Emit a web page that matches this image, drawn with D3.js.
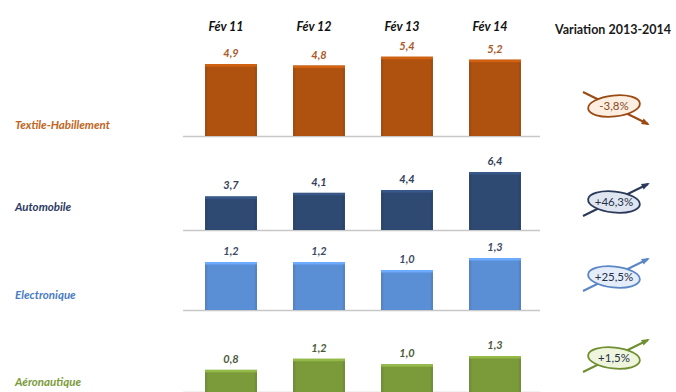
<!DOCTYPE html>
<html>
<head>
<meta charset="utf-8">
<script src="https://cdn.jsdelivr.net/npm/d3@7"></script>
<style>
  body { margin: 0; background: #fff; }
  svg { display: block; font-family: Lato, "Open Sans", sans-serif; }
</style>
</head>
<body>
<div class="chart"></div>
<script>
/* chart data */
const months = ["Fév 11", "Fév 12", "Fév 13", "Fév 14"];
const sectors = ["Textile-Habillement", "Automobile", "Electronique", "Aéronautique"];
const textileValues = [4.9, 4.8, 5.4, 5.2];
const autoValues = [3.7, 4.1, 4.4, 6.4];
const electroValues = [1.2, 1.2, 1.0, 1.3];
const aeroValues = [0.8, 1.2, 1.0, 1.3];
const variations = [-3.8, 46.3, 25.5, 1.5];
const variationTitle = "Variation 2013-2014";

const w = 676, h = 392;

/* look of each panel */
const panels = [
  { values: textileValues, base: 136, top: 56, max: 5.45, bar: "#b0520f", label: "#a85a2a", name: "#c0661e", fill: "#fcefe2", line: "#9b4a14", textY: 129, badgeY: 106 },
  { values: autoValues, base: 230, top: 172, max: 6.4, bar: "#2e4a72", label: "#33405a", name: "#2b3a63", fill: "#dfe6f1", line: "#2b3a5a", textY: 211, badgeY: 202 },
  { values: electroValues, base: 310, top: 258, max: 1.3, bar: "#5a8fd5", label: "#3b4a66", name: "#4a7cc4", fill: "#e4edf9", line: "#5b87c5", textY: 299, badgeY: 277 },
  { values: aeroValues, base: 392, top: 356, max: 1.3, bar: "#7b9b3b", label: "#4b5a3a", name: "#7a9a3a", fill: "#eff4dd", line: "#6f8f32", textY: 386, badgeY: 358 }
];

const svg = d3.select(".chart").append("svg")
  .attr("width", w)
  .attr("height", h);

const defs = svg.append("defs");
panels.forEach((p, i) => {
  const g = defs.append("linearGradient").attr("id", "bev" + i)
    .attr("x1", 0).attr("x2", 1).attr("y1", 0).attr("y2", 0);
  g.append("stop").attr("offset", "0%").attr("stop-color", d3.color(p.bar).darker(0.4));
  g.append("stop").attr("offset", "6%").attr("stop-color", p.bar);
  g.append("stop").attr("offset", "94%").attr("stop-color", p.bar);
  g.append("stop").attr("offset", "100%").attr("stop-color", d3.color(p.bar).darker(0.4));
});

const xScale = d3.scaleBand()
  .domain(months)
  .range([187, 539])
  .paddingInner(0.41)
  .paddingOuter(0.205);

/* column headers */
svg.selectAll(".month")
  .data(months)
  .enter()
  .append("text")
  .attr("class", "month")
  .attr("x", d => xScale(d) + xScale.bandwidth() / 2 - 5)
  .attr("y", 31)
  .attr("text-anchor", "middle")
  .attr("font-size", 12.5)
  .attr("font-weight", "bold")
  .attr("font-style", "italic")
  .attr("fill", "#111")
  .text(d => d);

svg.append("text")
  .attr("x", 613)
  .attr("y", 34)
  .attr("text-anchor", "middle")
  .attr("font-size", 12.5)
  .attr("font-weight", "bold")
  .attr("fill", "#1a1a1a")
  .text(variationTitle);

const fmt = v => d3.format(".1f")(Math.abs(v)).replace(".", ",");

panels.forEach((p, i) => {
  const yScale = d3.scaleLinear().domain([0, p.max]).range([p.base, p.top]);
  const g = svg.append("g");

  g.append("line")
    .attr("x1", 183).attr("x2", 540)
    .attr("y1", p.base + 0.5).attr("y2", p.base + 0.5)
    .attr("stroke", "#c8c8c8")
    .attr("stroke-width", 1.5);

  g.selectAll("rect.bar")
    .data(p.values)
    .enter()
    .append("rect")
    .attr("class", "bar")
    .attr("x", (d, j) => xScale(months[j]))
    .attr("y", d => yScale(d))
    .attr("width", xScale.bandwidth())
    .attr("height", d => p.base - yScale(d))
    .attr("fill", "url(#bev" + i + ")");

  // lighter top edge
  g.selectAll("rect.edge")
    .data(p.values)
    .enter()
    .append("rect")
    .attr("class", "edge")
    .attr("x", (d, j) => xScale(months[j]))
    .attr("y", d => yScale(d))
    .attr("width", xScale.bandwidth())
    .attr("height", 2.5)
    .attr("fill", d3.color(p.bar).brighter(0.5));

  g.selectAll("text.val")
    .data(p.values)
    .enter()
    .append("text")
    .attr("class", "val")
    .attr("x", (d, j) => xScale(months[j]) + xScale.bandwidth() / 2)
    .attr("y", d => yScale(d) - 7)
    .attr("text-anchor", "middle")
    .attr("font-size", 11)
    .attr("font-weight", "bold")
    .attr("font-style", "italic")
    .attr("fill", p.label)
    .text(d => fmt(d));

  g.append("text")
    .attr("x", 15)
    .attr("y", p.textY)
    .attr("font-size", 11.5)
    .attr("font-weight", "bold")
    .attr("font-style", "italic")
    .attr("fill", p.name)
    .text(sectors[i]);

  /* variation badge */
  const v = variations[i];
  const cx = 614, cy = p.badgeY;
  const dir = v < 0 ? 1 : -1;
  const x1 = cx - 31, y1 = cy - dir * 14, x2 = cx + 34, y2 = cy + dir * 18;
  const ang = Math.atan2(y2 - y1, x2 - x1);
  const b = svg.append("g");
  b.append("line")
    .attr("x1", x1).attr("y1", y1).attr("x2", x2).attr("y2", y2)
    .attr("stroke", p.line)
    .attr("stroke-width", 2);
  const ah = 7;
  b.append("path")
    .attr("d", d3.line()([
      [x2 + 2 * Math.cos(ang), y2 + 2 * Math.sin(ang)],
      [x2 - ah * Math.cos(ang - 0.45), y2 - ah * Math.sin(ang - 0.45)],
      [x2 - ah * Math.cos(ang + 0.45), y2 - ah * Math.sin(ang + 0.45)]
    ]) + "Z")
    .attr("fill", p.line);
  b.append("ellipse")
    .attr("cx", cx).attr("cy", cy)
    .attr("rx", 26).attr("ry", 10.5)
    .attr("transform", "rotate(" + (-dir * 6) + "," + cx + "," + cy + ")")
    .attr("fill", p.fill)
    .attr("stroke", p.line)
    .attr("stroke-width", 1.8);
  b.append("text")
    .attr("x", cx).attr("y", cy + 4)
    .attr("text-anchor", "middle")
    .attr("font-size", 11.5)
    .attr("fill", i === 0 ? "#8a4a1e" : "#24304a")
    .text((v < 0 ? "-" : "+") + fmt(v) + "%");
});
</script>
</body>
</html>
